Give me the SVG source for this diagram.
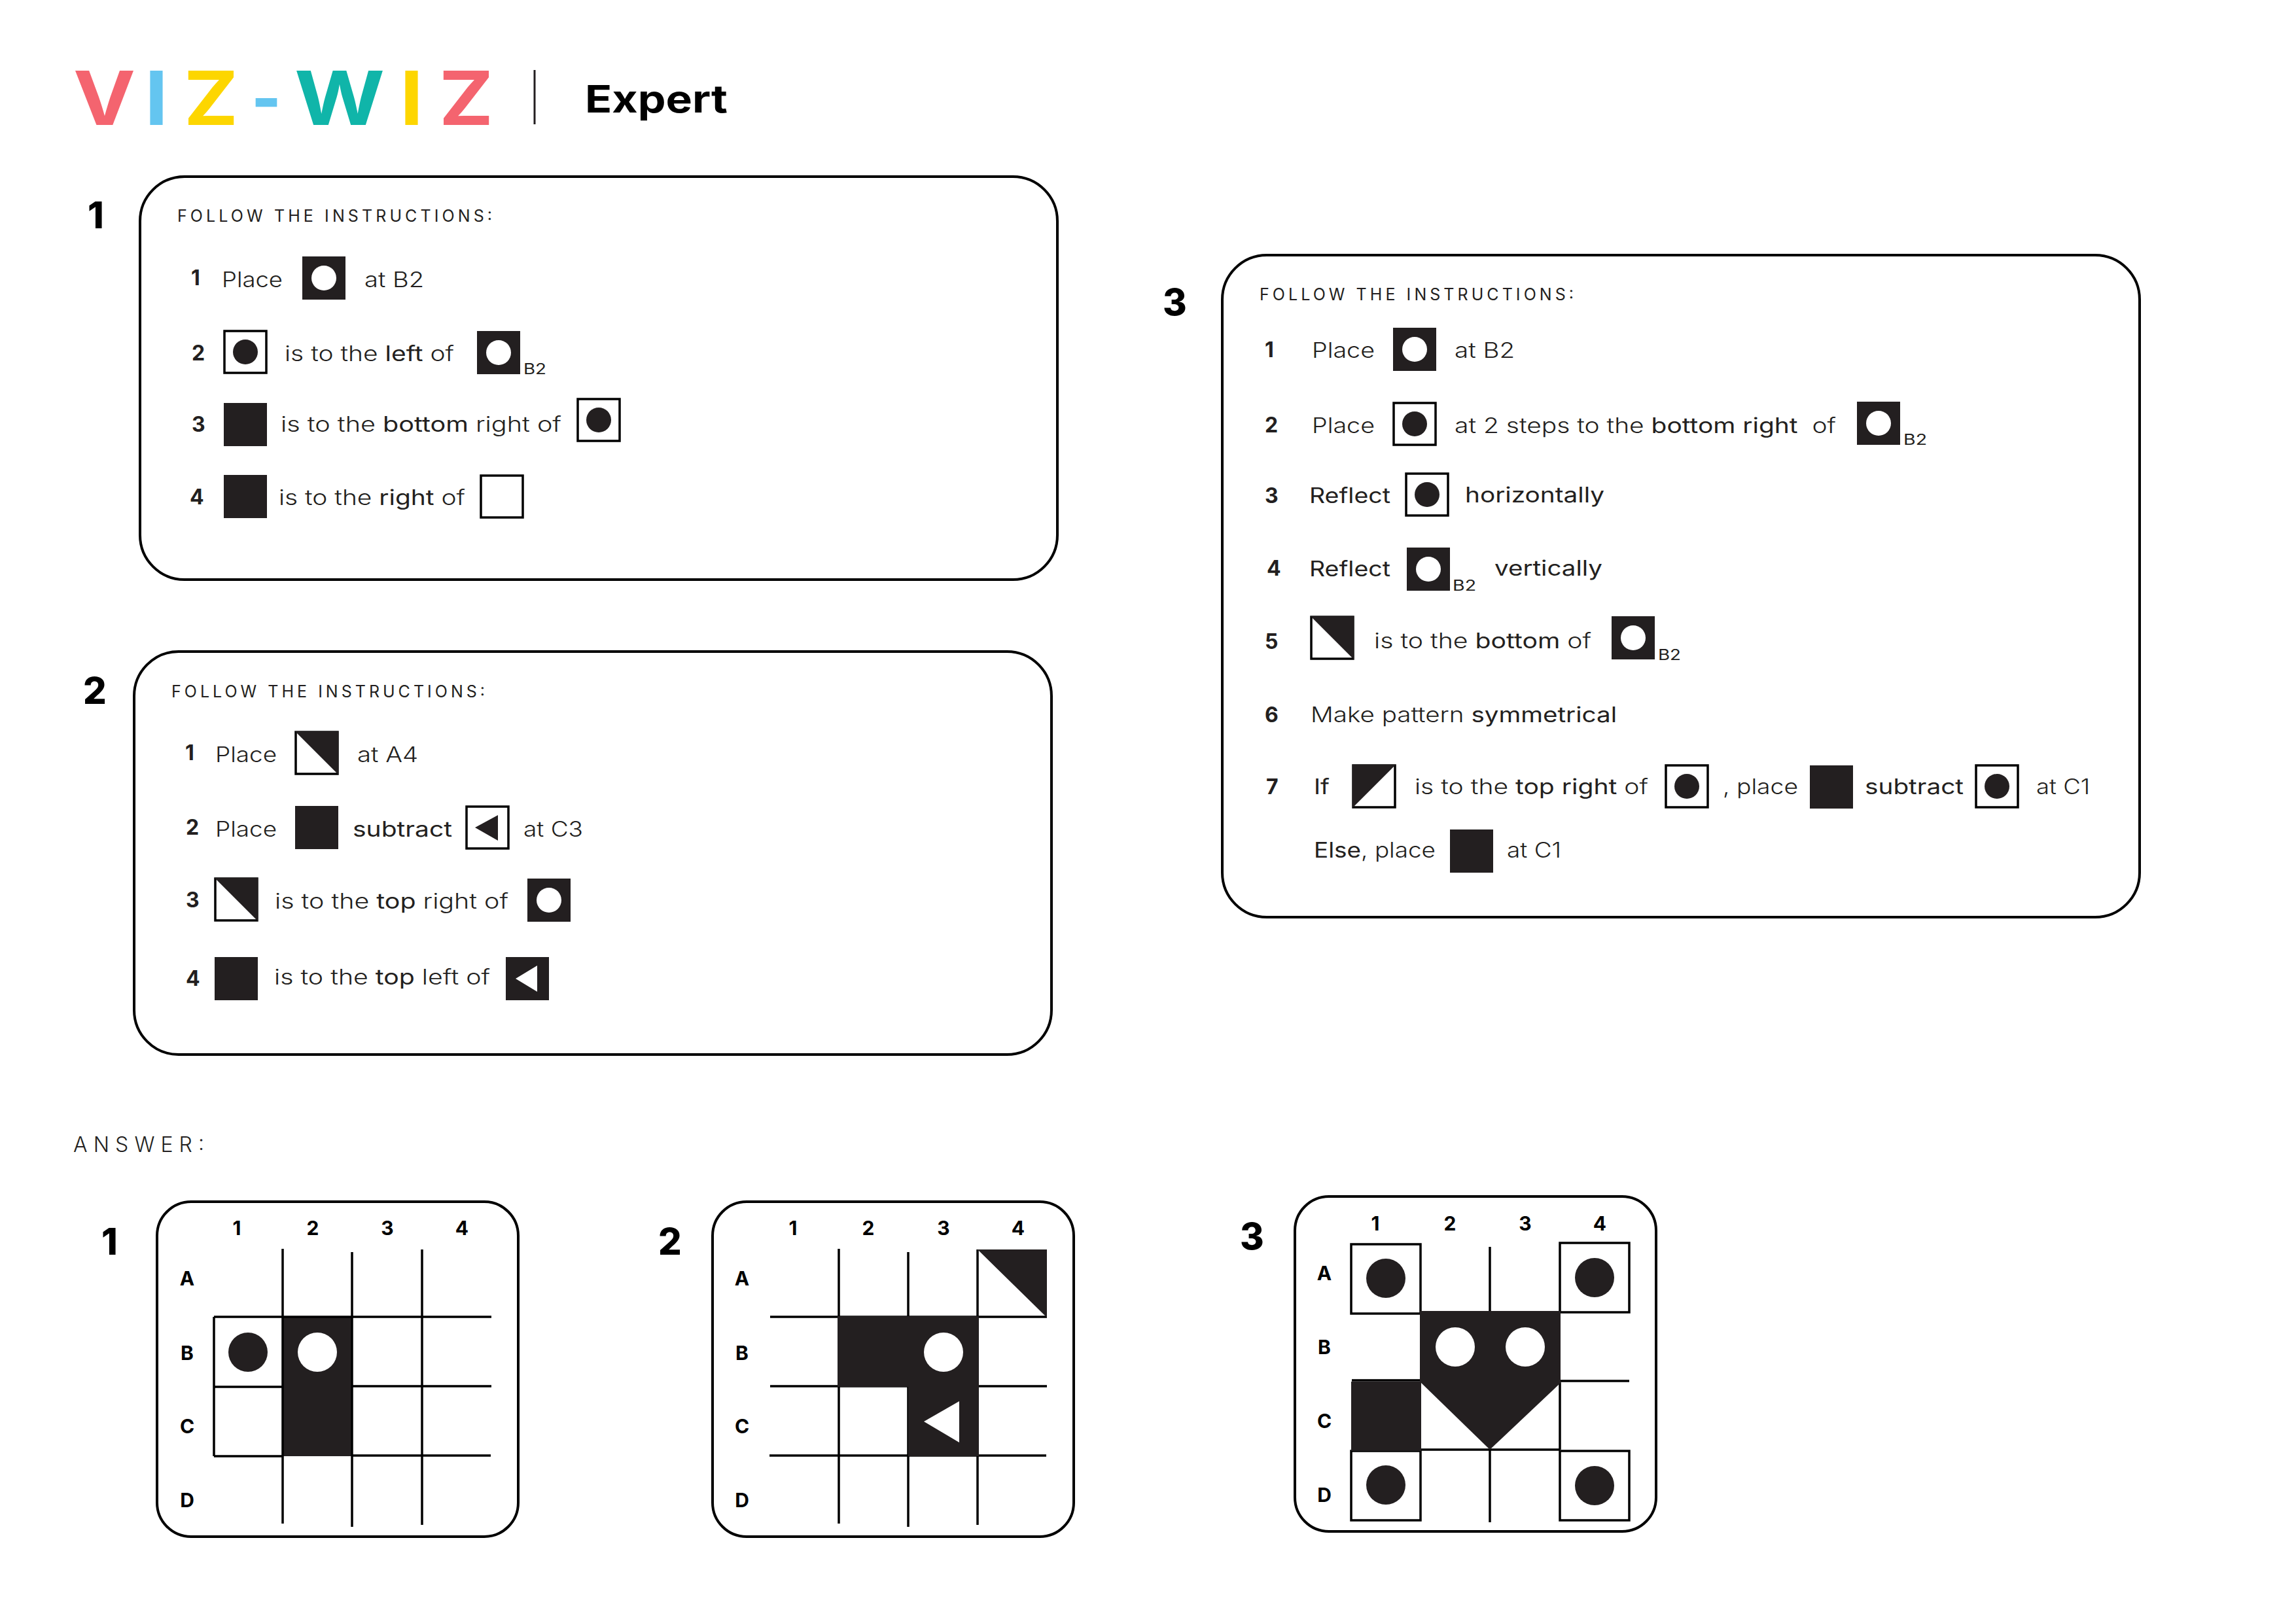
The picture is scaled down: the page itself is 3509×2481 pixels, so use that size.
<svg xmlns="http://www.w3.org/2000/svg" width="3509" height="2481" viewBox="0 0 3509 2481">
<style>
text{font-family:"Inter","Liberation Sans",sans-serif;fill:#231f20}
.t{font-size:32px;font-weight:300}
.t tspan,.m{font-weight:400}
.h{font-size:25px;font-weight:400}
.s{font-size:23px;font-weight:400}
.n{font-size:32px;font-weight:700}
.big{font-size:56px;font-weight:800;fill:#000}
.c{font-size:30px;font-weight:700;text-anchor:middle;fill:#000}
.logo{font-size:114px;font-weight:700}
.card{fill:#fff;stroke:#000;stroke-width:4}
.k{fill:#231f20}
.w{fill:#fff}
.o{fill:#fff;stroke:#000;stroke-width:3.5}
.l{stroke:#000;stroke-width:3.5;fill:none}
</style>
<defs>
<g id="sw"><rect class="k" width="66" height="66"/><circle class="w" cx="33" cy="33" r="19"/></g>
<g id="ob"><rect class="o" x="1" y="1" width="64" height="64"/><circle class="k" cx="33" cy="33" r="19"/></g>
<rect id="s" class="k" width="66" height="66"/>
<rect id="e" class="o" x="1" y="1" width="64" height="64"/>
<g id="d1"><rect class="o" x="1" y="1" width="64" height="64"/><path class="k" d="M0 0H66V66Z"/></g>
<g id="d2"><rect class="o" x="1" y="1" width="64" height="64"/><path class="k" d="M0 0H66L0 66Z"/></g>
<g id="tw"><rect class="k" width="66" height="66"/><path class="w" d="M15 33L48 13V53Z"/></g>
<g id="to"><rect class="o" x="1" y="1" width="64" height="64"/><path class="k" d="M14 33L49 14V53Z"/></g>
</defs>
<rect width="3509" height="2481" fill="#fff"/>

<g id="logo">
<text class="logo" x="112" y="190.5" textLength="95" lengthAdjust="spacingAndGlyphs" style="fill:#f4646f">V</text>
<text class="logo" x="221" y="190.5" textLength="36" lengthAdjust="spacingAndGlyphs" style="fill:#64c5f0">I</text>
<text class="logo" x="281" y="190.5" textLength="83" lengthAdjust="spacingAndGlyphs" style="fill:#fdd600">Z</text>
<text class="logo" x="384" y="190.5" textLength="46" lengthAdjust="spacingAndGlyphs" style="fill:#64c5f0">-</text>
<text class="logo" x="450" y="190.5" textLength="138" lengthAdjust="spacingAndGlyphs" style="fill:#10b5a9">W</text>
<text class="logo" x="611" y="190.5" textLength="36" lengthAdjust="spacingAndGlyphs" style="fill:#fdd600">I</text>
<text class="logo" x="671" y="190.5" textLength="83" lengthAdjust="spacingAndGlyphs" style="fill:#f4646f">Z</text>
<line x1="817" y1="107" x2="817" y2="190" stroke="#231f20" stroke-width="3"/>
<text x="894" y="172" font-size="58" font-weight="700" textLength="218" lengthAdjust="spacingAndGlyphs" style="fill:#000">Expert</text>
</g>

<g id="panel1">
<text class="big" x="134" y="349">1</text>
<rect class="card" x="214" y="270" width="1402" height="616" rx="68" ry="68"/>
<text class="h" x="271" y="339" textLength="481">FOLLOW THE INSTRUCTIONS:</text>
<g id="p1r1"><text class="n" x="292" y="436">1</text><text class="t" x="339" y="438.5" lengthAdjust="spacingAndGlyphs" textLength="93">Place</text><use href="#sw" x="462" y="392"/><text class="t" x="557" y="438.5" lengthAdjust="spacingAndGlyphs" textLength="91">at B2</text></g>
<g id="p1r2"><text class="n" x="293" y="551">2</text><use href="#ob" x="342" y="505"/><text class="t" x="435" y="552" lengthAdjust="spacingAndGlyphs" textLength="259">is to the <tspan>left</tspan> of</text><use href="#sw" x="729" y="506"/><text class="s" x="800" y="572" lengthAdjust="spacingAndGlyphs" textLength="35">B2</text></g>
<g id="p1r3"><text class="n" x="293" y="660">3</text><use href="#s" x="342" y="616"/><text class="t" x="429" y="660" lengthAdjust="spacingAndGlyphs" textLength="429">is to the <tspan>bottom</tspan> right of</text><use href="#ob" x="882" y="609"/></g>
<g id="p1r4"><text class="n" x="290" y="771">4</text><use href="#s" x="342" y="726"/><text class="t" x="426" y="772" lengthAdjust="spacingAndGlyphs" textLength="285">is to the <tspan>right</tspan> of</text><use href="#e" x="734" y="726"/></g>
</g>

<g id="panel2">
<text class="big" x="127" y="1076">2</text>
<rect class="card" x="205" y="996" width="1402" height="616" rx="68" ry="68"/>
<text class="h" x="262" y="1066" textLength="479">FOLLOW THE INSTRUCTIONS:</text>
<g id="p2r1"><text class="n" x="283" y="1162">1</text><text class="t" x="329" y="1165" lengthAdjust="spacingAndGlyphs" textLength="94">Place</text><use href="#d1" x="451" y="1118"/><text class="t" x="546" y="1165" lengthAdjust="spacingAndGlyphs" textLength="93">at A4</text></g>
<g id="p2r2"><text class="n" x="284" y="1276">2</text><text class="t" x="329" y="1279" lengthAdjust="spacingAndGlyphs" textLength="94">Place</text><use href="#s" x="451" y="1232"/><text class="t m" x="539" y="1279" lengthAdjust="spacingAndGlyphs" textLength="152">subtract</text><use href="#to" x="712" y="1232"/><text class="t" x="800" y="1279" lengthAdjust="spacingAndGlyphs" textLength="91">at C3</text></g>
<g id="p2r3"><text class="n" x="284" y="1387">3</text><use href="#d1" x="328" y="1342"/><text class="t" x="420" y="1389" lengthAdjust="spacingAndGlyphs" textLength="357">is to the <tspan>top</tspan> right of</text><use href="#sw" x="806" y="1343"/></g>
<g id="p2r4"><text class="n" x="284" y="1507">4</text><use href="#s" x="328" y="1463"/><text class="t" x="419" y="1505" lengthAdjust="spacingAndGlyphs" textLength="330">is to the <tspan>top</tspan> left of</text><use href="#tw" x="773" y="1463"/></g>
</g>

<g id="panel3">
<text class="big" x="1777" y="482">3</text>
<rect class="card" x="1868" y="390" width="1402" height="1012" rx="68" ry="68"/>
<text class="h" x="1925" y="459" textLength="480">FOLLOW THE INSTRUCTIONS:</text>
<g id="p3r1"><text class="n" x="1933" y="546">1</text><text class="t" x="2005" y="547" lengthAdjust="spacingAndGlyphs" textLength="96">Place</text><use href="#sw" x="2129" y="501"/><text class="t" x="2223" y="547" lengthAdjust="spacingAndGlyphs" textLength="92">at B2</text></g>
<g id="p3r2"><text class="n" x="1933" y="661">2</text><text class="t" x="2005" y="662" lengthAdjust="spacingAndGlyphs" textLength="96">Place</text><use href="#ob" x="2129" y="615"/><text class="t" x="2223" y="662" lengthAdjust="spacingAndGlyphs" textLength="583" xml:space="preserve">at 2 steps to the <tspan>bottom right</tspan>  of</text><use href="#sw" x="2838" y="614"/><text class="s" x="2909" y="680" lengthAdjust="spacingAndGlyphs" textLength="36">B2</text></g>
<g id="p3r3"><text class="n" x="1933" y="769">3</text><text class="t m" x="2001" y="769" lengthAdjust="spacingAndGlyphs" textLength="124">Reflect</text><use href="#ob" x="2148" y="723"/><text class="t m" x="2239" y="768" lengthAdjust="spacingAndGlyphs" textLength="213">horizontally</text></g>
<g id="p3r4"><text class="n" x="1936" y="880">4</text><text class="t m" x="2001" y="881" lengthAdjust="spacingAndGlyphs" textLength="124">Reflect</text><use href="#sw" x="2150" y="837"/><text class="s" x="2220" y="903" lengthAdjust="spacingAndGlyphs" textLength="36">B2</text><text class="t m" x="2284" y="880" lengthAdjust="spacingAndGlyphs" textLength="165">vertically</text></g>
<g id="p3r5"><text class="n" x="1933" y="992">5</text><use href="#d1" x="2003" y="942"/><text class="t" x="2100" y="991" lengthAdjust="spacingAndGlyphs" textLength="332">is to the <tspan>bottom</tspan> of</text><use href="#sw" x="2463" y="942"/><text class="s" x="2534" y="1009" lengthAdjust="spacingAndGlyphs" textLength="35">B2</text></g>
<g id="p3r6"><text class="n" x="1933" y="1103.5">6</text><text class="t" x="2003" y="1103.5" lengthAdjust="spacingAndGlyphs" textLength="468">Make pattern <tspan>symmetrical</tspan></text></g>
<g id="p3r7"><text class="n" x="1935" y="1214">7</text><text class="t m" x="2008" y="1214" lengthAdjust="spacingAndGlyphs" textLength="24">If</text><use href="#d2" x="2067" y="1169"/><text class="t" x="2162" y="1214" lengthAdjust="spacingAndGlyphs" textLength="357">is to the <tspan>top right</tspan> of</text><use href="#ob" x="2545" y="1169"/><text class="t" x="2633" y="1214" lengthAdjust="spacingAndGlyphs" textLength="115">, place</text><use href="#s" x="2766" y="1170"/><text class="t m" x="2850" y="1214" lengthAdjust="spacingAndGlyphs" textLength="151">subtract</text><use href="#ob" x="3019" y="1169"/><text class="t" x="3112" y="1214" lengthAdjust="spacingAndGlyphs" textLength="82">at C1</text></g>
<g id="p3r8"><text class="t" x="2008" y="1311" lengthAdjust="spacingAndGlyphs" textLength="186"><tspan>Else</tspan>, place</text><use href="#s" x="2216" y="1268"/><text class="t" x="2303" y="1311" lengthAdjust="spacingAndGlyphs" textLength="83">at C1</text></g>
</g>

<text id="answer" x="112" y="1761" font-size="32" font-weight="300" textLength="200">ANSWER:</text>

<g id="answer1" transform="translate(0,2)">
<text class="big" x="155" y="1916">1</text>
<rect class="card" x="240" y="1835" width="552" height="512" rx="52" ry="52"/>
<text class="c" x="362" y="1886">1</text><text class="c" x="478" y="1886">2</text><text class="c" x="592" y="1886">3</text><text class="c" x="706" y="1886">4</text>
<text class="c" x="286" y="1963">A</text><text class="c" x="286" y="2077">B</text><text class="c" x="286" y="2189">C</text><text class="c" x="286" y="2302">D</text>
<rect class="k" x="432" y="2010" width="107" height="214"/>
<path class="l" d="M432 1907V2327M538 1912V2332M645 1908V2329M327 2011H751M327 2118H432M539 2117H751M327 2224H432M539 2223H750M327 2011V2224"/>
<circle class="k" cx="379" cy="2065" r="30"/><circle class="w" cx="485" cy="2065" r="30"/>
</g>

<g id="answer2" transform="translate(0,2)">
<text class="big" x="1006" y="1916">2</text>
<rect class="card" x="1089" y="1835" width="552" height="512" rx="52" ry="52"/>
<text class="c" x="1212" y="1886">1</text><text class="c" x="1327" y="1886">2</text><text class="c" x="1442" y="1886">3</text><text class="c" x="1556" y="1886">4</text>
<text class="c" x="1134" y="1963">A</text><text class="c" x="1134" y="2077">B</text><text class="c" x="1134" y="2189">C</text><text class="c" x="1134" y="2302">D</text>
<path class="l" d="M1282 1907V2327M1388 1912V2332M1494 1908V2329M1177 2011H1600M1177 2117H1600M1176 2223H1599"/>
<path class="k" d="M1280 2010H1496V2224H1388V2118H1280ZM1494 1908H1600V2012Z"/>
<circle class="w" cx="1442" cy="2065" r="30"/>
<path class="w" d="M1412 2171L1466 2140V2203Z"/>
</g>

<g id="answer3" transform="translate(0,2)">
<text class="big" x="1895" y="1908">3</text>
<rect class="card" x="1979" y="1827" width="552" height="512" rx="52" ry="52"/>
<text class="c" x="2102" y="1879">1</text><text class="c" x="2216" y="1879">2</text><text class="c" x="2331" y="1879">3</text><text class="c" x="2445" y="1879">4</text>
<text class="c" x="2024" y="1955">A</text><text class="c" x="2024" y="2068">B</text><text class="c" x="2024" y="2181">C</text><text class="c" x="2024" y="2294">D</text>
<path class="l" d="M2277 1904V2003M2277 2214V2325M2384 2111V2214M2385 2109H2490M2172 2214H2384M2066 2108H2171"/>
<rect class="o" x="2065" y="1900" width="106" height="106"/><circle class="k" cx="2118" cy="1952" r="30"/>
<rect class="o" x="2384" y="1898" width="106" height="106"/><circle class="k" cx="2437" cy="1951" r="30"/>
<rect class="o" x="2065" y="2216" width="106" height="106"/><circle class="k" cx="2118" cy="2268" r="30"/>
<rect class="o" x="2384" y="2216" width="106" height="106"/><circle class="k" cx="2437" cy="2269" r="30"/>
<rect class="k" x="2065" y="2110" width="107" height="106"/>
<path class="k" d="M2170 2002H2385V2112L2277 2214L2170 2110Z"/>
<circle class="w" cx="2224" cy="2057" r="30"/><circle class="w" cx="2331" cy="2057" r="30"/>
</g>
</svg>
